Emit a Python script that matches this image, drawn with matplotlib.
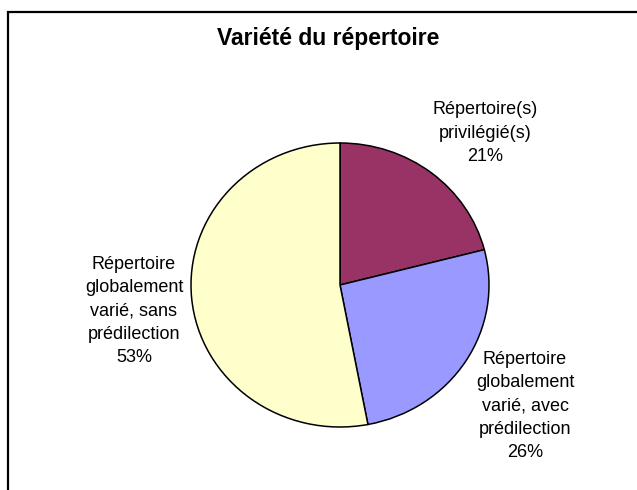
import matplotlib
matplotlib.use('agg')
from matplotlib import pyplot as plt
from matplotlib.patches import Rectangle

plt.rcParams['font.family'] = ['Liberation Sans', 'DejaVu Sans']

title = 'Variété du répertoire'
categories = [
    'Répertoire(s)\nprivilégié(s)',
    'Répertoire\nglobalement\nvarié, avec\nprédilection',
    'Répertoire\nglobalement\nvarié, sans\nprédilection',
]
percents = [21, 26, 53]
colors = ['#993366', '#9999FF', '#FFFFCC']

# label centres in figure pixels (from top-left)
label_pos = [(485, 133), (525, 406), (134, 311)]

W, H = 637, 490
fig = plt.figure(figsize=(W / 100, H / 100), dpi=100)

# chart border (top and left edges visible, rest runs off the picture)
fig.patches.append(Rectangle((7.5 / W, -0.1), 1.2, (H - 12.5) / H + 0.1,
                             transform=fig.transFigure, fill=False,
                             edgecolor='black', linewidth=1.6))

cx, cy, rx, ry = 340, 285, 149, 142
ax = fig.add_axes([(cx - rx) / W, (H - cy - ry) / H, 2 * rx / W, 2 * ry / H])
ax.pie(percents, colors=colors, startangle=90, counterclock=False,
       wedgeprops={'edgecolor': 'black', 'linewidth': 1.1})
ax.set_aspect('auto')
ax.set_xlim(-1, 1)
ax.set_ylim(-1, 1)

for cat, pct, (px, py) in zip(categories, percents, label_pos):
    fig.text(px / W, 1 - py / H, f'{cat}\n{pct}%', ha='center', va='center',
             fontsize=13, linespacing=1.48)

fig.text(328 / W, 1 - 38 / H, title, ha='center', va='center',
         fontsize=16.5, fontweight='bold')

plt.savefig('out.png', dpi=100, facecolor='white')
